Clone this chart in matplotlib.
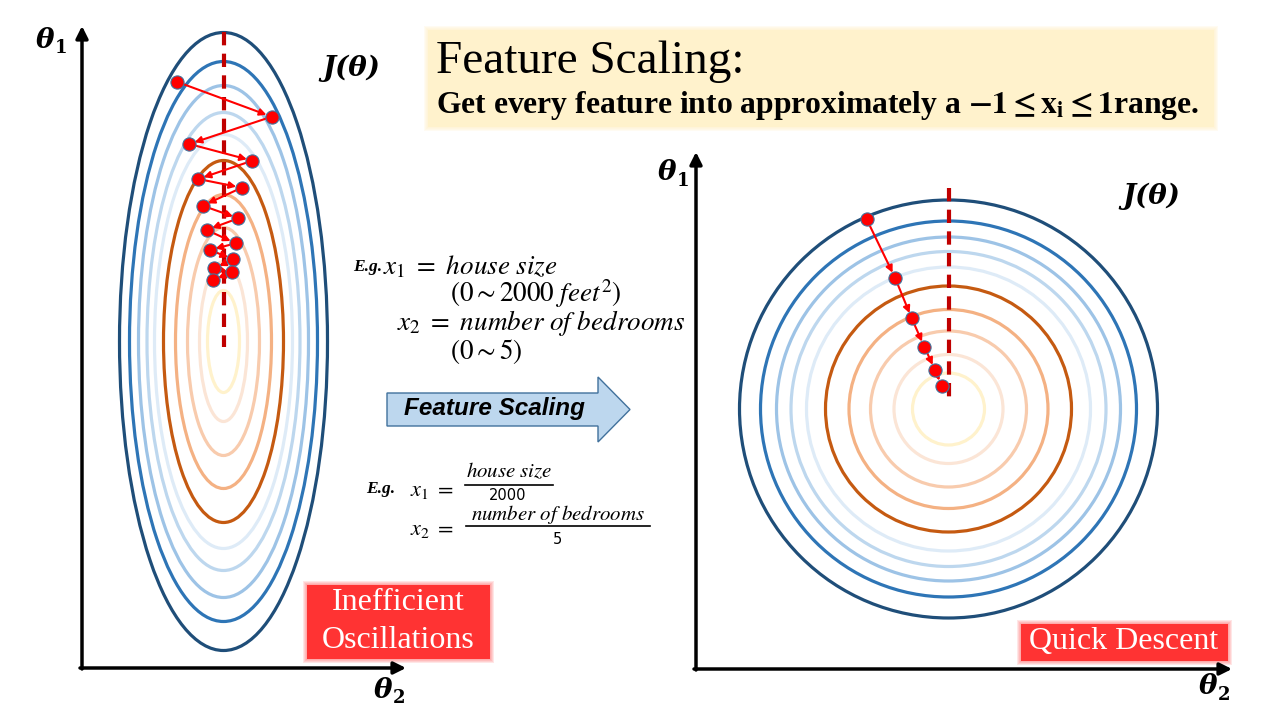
import numpy as np
import matplotlib
matplotlib.use("Agg")
from matplotlib import pyplot as plt
from matplotlib.patches import Ellipse, Circle, Rectangle, FancyArrow

plt.rcParams['mathtext.fontset'] = 'stix'

# contour levels, outermost first
contour_colors = ['#1F4E79', '#2E75B6', '#9DC3E6', '#BDD7EE', '#DEEBF7',
                  '#C55A11', '#F4B183', '#F8CBAD', '#FBE5D6', '#FFF2CC']
left_half_w = [104, 94, 85, 76.5, 69, 60, 48, 36, 24, 16]
left_half_h = [309, 280, 256, 229, 207, 181, 147, 114, 80, 51]
right_radius = [209, 188, 172, 157.5, 142, 123, 99.5, 78, 54.5, 36]

# gradient descent steps (pixel space of the slide)
left_steps_x = [176.7, 271.7, 189.3, 252.3, 198.3, 241.7, 202.7, 238.3, 206.7, 235.7, 210, 233.3, 214, 232.3, 212.7]
left_steps_y = [81.7, 116.7, 144, 160.7, 179, 187.7, 205.7, 218.3, 230, 243.3, 250, 259.3, 268.3, 272.3, 280]
right_steps_x = [866.7, 895, 911.7, 924.3, 935, 941.7]
right_steps_y = [219.3, 277.7, 318.3, 346.7, 370, 385.7]

left_center = (223.5, 341.5)
right_center = (948.5, 409)

fig = plt.figure(figsize=(12.78, 7.19), dpi=100)
ax = fig.add_axes([0, 0, 1, 1])
ax.set_xlim(0, 1278)
ax.set_ylim(719, 0)
ax.axis('off')

# contours
for c, w, h in zip(contour_colors, left_half_w, left_half_h):
    ax.add_patch(Ellipse(left_center, 2 * w, 2 * h, fill=False, ec=c, lw=2.3))
for c, r in zip(contour_colors, right_radius):
    ax.add_patch(Circle(right_center, r, fill=False, ec=c, lw=2.3))

# dashed minimum lines
ax.plot([left_center[0], left_center[0]], [32, 347], color='#C00000', lw=3, dashes=(3.2, 2.0))
ax.plot([right_center[0], right_center[0]], [188, 399], color='#C00000', lw=3, dashes=(3.2, 2.0))

def steps(xs, ys):
    for i in range(len(xs) - 1):
        ax.annotate('', xy=(xs[i + 1], ys[i + 1]), xytext=(xs[i], ys[i]),
                    arrowprops=dict(arrowstyle='-|>', color='red', lw=1.5,
                                    mutation_scale=10, shrinkA=3, shrinkB=4),
                    zorder=4)
    ax.scatter(xs, ys, s=90, color='red', edgecolors='#41719C', linewidths=0.8, zorder=5)

steps(left_steps_x, left_steps_y)
steps(right_steps_x, right_steps_y)

# axes arrows
def axis_arrow(x0, y0, x1, y1):
    ax.annotate('', xy=(x1, y1), xytext=(x0, y0),
                arrowprops=dict(arrowstyle='-|>', color='black', lw=2.5,
                                mutation_scale=18, shrinkA=0, shrinkB=0))

axis_arrow(82, 669, 82, 26)
axis_arrow(80, 668, 406, 668)
axis_arrow(696, 670, 696, 152)
axis_arrow(694, 669, 1232, 669)

lab = dict(family='DejaVu Serif', fontweight='bold', style='italic', color='black')
sub = dict(family='DejaVu Serif', fontweight='bold', fontsize=13, ha='center', va='center')
ax.text(45, 40, 'θ', fontsize=20, ha='center', va='center', **lab)
ax.text(61, 48, '1', **sub)
ax.text(383, 690, 'θ', fontsize=20, ha='center', va='center', **lab)
ax.text(399, 698, '2', **sub)
ax.text(667, 173, 'θ', fontsize=20, ha='center', va='center', **lab)
ax.text(683, 181, '1', **sub)
ax.text(1208, 687, 'θ', fontsize=20, ha='center', va='center', **lab)
ax.text(1224, 695, '2', **sub)

ax.text(351, 68, 'J(θ)', fontsize=20, ha='center', va='center', **lab)
ax.text(1151, 196, 'J(θ)', fontsize=20, ha='center', va='center', **lab)

# title box
for k in range(4, 0, -1):
    ax.add_patch(Rectangle((428 - k, 30 - k), 786 + 2 * k, 97 + 2 * k, fc='#FFF2CC', ec='none', alpha=0.25))
ax.add_patch(Rectangle((428, 30), 786, 97, fc='#FFF2CC', ec='none'))
ax.text(436, 62, 'Feature Scaling:', fontsize=34, family='Liberation Serif', ha='left', va='center')
ax.text(436, 106, r'Get every feature into approximately a $\mathbf{-1 \leq x_i \leq 1}$range.',
        fontsize=22.8, family='Liberation Serif', fontweight='bold', ha='left', va='center')

# example text (raw ranges)
eg = dict(family='Liberation Serif', fontweight='bold', style='italic', fontsize=12.5)
ax.text(353, 267, 'E.g.', ha='left', va='center', **eg)
ax.text(383, 267, r'$x_1\ =\ house\ size$', fontsize=19.5, ha='left', va='center')
ax.text(450, 294, r'$(0 \sim 2000\ feet^2)$', fontsize=19.5, ha='left', va='center')
ax.text(397, 323, r'$x_2\ =\ number\ of\ bedrooms$', fontsize=19.5, ha='left', va='center')
ax.text(450, 352, r'$(0 \sim 5)$', fontsize=19.5, ha='left', va='center')

# example text (scaled), fractions drawn as numerator / bar / denominator
ax.text(366, 489, 'E.g.', ha='left', va='center', **eg)
ax.text(410, 491, r'$x_1\ =$', fontsize=16, ha='left', va='center')
ax.text(509, 471, r'$house\ size$', fontsize=15, ha='center', va='center')
ax.plot([465, 553], [485, 485], color='black', lw=1.2)
ax.text(508, 495, '2000', fontsize=10.5, family='DejaVu Sans', ha='center', va='center')
ax.text(410, 530, r'$x_2\ =$', fontsize=16, ha='left', va='center')
ax.text(558, 514, r'$number\ of\ bedrooms$', fontsize=15, ha='center', va='center')
ax.plot([466, 650], [526, 526], color='black', lw=1.2)
ax.text(557, 539, '5', fontsize=10.5, family='DejaVu Sans', ha='center', va='center')

# block arrow
ax.add_patch(FancyArrow(387, 409.5, 243, 0, width=33, head_width=65, head_length=32,
                        length_includes_head=True, fc='#BDD7EE', ec='#41719C', lw=1))
ax.text(494, 409, 'Feature Scaling', fontsize=17.5, family='Liberation Sans', fontweight='bold',
        style='italic', ha='center', va='center')

# red label boxes
def red_box(x, y, w, h):
    for k in range(4, 0, -1):
        ax.add_patch(Rectangle((x - k, y - k), w + 2 * k, h + 2 * k, fc='#FF3333', ec='none', alpha=0.12))
    ax.add_patch(Rectangle((x, y), w, h, fc='#FF3333', ec='none'))

red_box(307, 585, 183, 74)
ax.text(398, 603, 'Inefficient', fontsize=23, family='Liberation Serif', color='white', ha='center', va='center')
ax.text(398, 640, 'Oscillations', fontsize=23, family='Liberation Serif', color='white', ha='center', va='center')
red_box(1021, 624, 207, 37)
ax.text(1124, 642, 'Quick Descent', fontsize=23, family='Liberation Serif', color='white', ha='center', va='center')

fig.savefig('out.png', dpi=100)
